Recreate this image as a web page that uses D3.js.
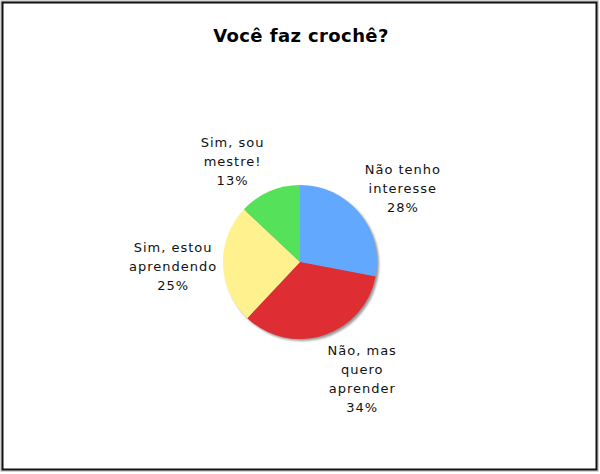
<!DOCTYPE html>
<html><head><meta charset="utf-8">
<script src="https://cdn.jsdelivr.net/npm/d3@7/dist/d3.min.js"></script>
<style>html,body{margin:0;padding:0;background:#fff;}svg{display:block;}</style>
</head><body>
<svg id="chart" width="600" height="474"></svg>
<script>
const title = "Você faz crochê?";
const categories = [["Não tenho","interesse"],["Não, mas","quero","aprender"],["Sim, estou","aprendendo"],["Sim, sou","mestre!"]];
const values = [28, 34, 25, 13];
const colors = ["#62a8fe","#de2d33","#fff18d","#55e15a"];

const svg = d3.select("#chart");
svg.append("rect").attr("x",1).attr("y",1).attr("width",597).attr("height",470)
  .attr("fill","none").attr("stroke","#aaa").attr("stroke-width",1);
svg.append("rect").attr("x",2.5).attr("y",2.5).attr("width",594).attr("height",467)
  .attr("fill","#fff").attr("stroke","#111").attr("stroke-width",2);

svg.append("text").attr("x",301).attr("y",42).attr("text-anchor","middle")
  .attr("font-family","DejaVu Sans, Verdana, sans-serif").attr("font-weight","bold")
  .attr("font-size",18).attr("letter-spacing",0.4).attr("fill","#000").text(title);

const cx = 300, cy = 262, r = 77;
const g = svg.append("g").attr("transform",`translate(${cx},${cy})`);
const pie = d3.pie().sort(null).value(d=>d)(values);
const arc = d3.arc().innerRadius(0).outerRadius(r);
const defs = svg.append("defs");
const f = defs.append("filter").attr("id","sh").attr("x","-20%").attr("y","-20%").attr("width","140%").attr("height","140%");
f.append("feGaussianBlur").attr("stdDeviation",1.2);
g.append("circle").attr("cx",2).attr("cy",2).attr("r",r).attr("fill","#999").attr("filter","url(#sh)");
g.selectAll("path.s").data(pie).join("path").attr("class","s")
  .attr("d",arc).attr("fill",(d,i)=>colors[i]);

// label placement: outside arc plus small nudges to avoid overlap
const labelArc = d3.arc().innerRadius(127).outerRadius(127);
const nudge = [[5,7],[23,-4],[0,0],[-17,16]];
const lh = 19;
pie.forEach((d,i)=>{
  const [x0,y] = labelArc.centroid(d);
  const x = x0 + nudge[i][0];
  const yc = y + nudge[i][1];
  const lines = categories[i].concat([values[i]+"%"]);
  const t = g.append("text").attr("text-anchor","middle")
    .attr("font-family","DejaVu Sans, Verdana, sans-serif").attr("font-size",13)
    .attr("letter-spacing",1).attr("fill","#111");
  const y0 = yc - (lines.length-1)*lh/2 + 5;
  lines.forEach((l,k)=>t.append("tspan").attr("x",x).attr("y",y0+k*lh).text(l));
});
</script>
</body></html>
